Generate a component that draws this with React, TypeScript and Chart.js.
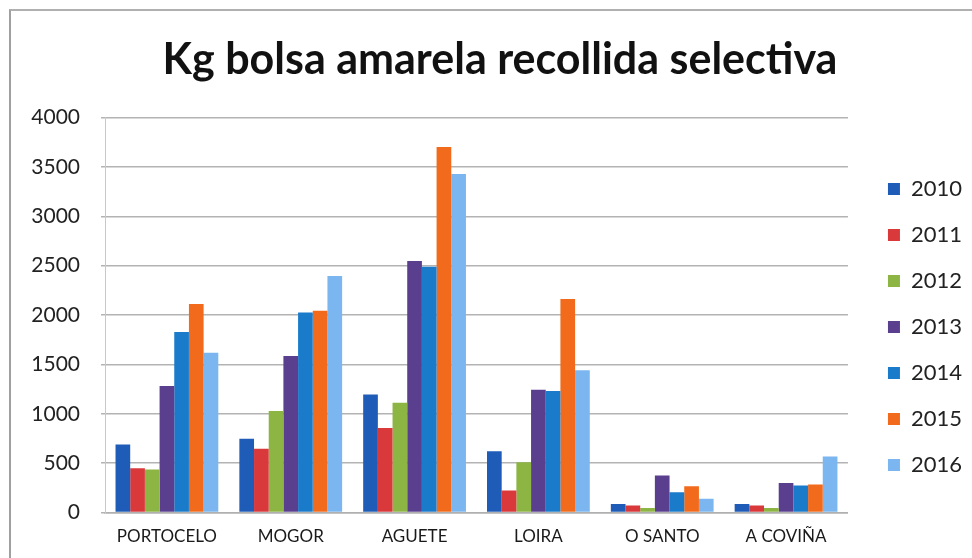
import { useEffect, useRef } from "react";
import { Chart, registerables } from "chart.js";

Chart.register(...registerables);

const categories = ["PORTOCELO", "MOGOR", "AGUETE", "LOIRA", "O SANTO", "A COVIÑA"];
const years = ["2010", "2011", "2012", "2013", "2014", "2015", "2016"];
const v2010 = [690, 748, 1195, 622, 88, 88];
const v2011 = [450, 646, 856, 223, 71, 71];
const v2012 = [437, 1028, 1113, 511, 47, 47];
const v2013 = [1283, 1587, 2548, 1245, 376, 301];
const v2014 = [1830, 2027, 2490, 1232, 206, 274];
const v2015 = [2112, 2044, 3702, 2162, 267, 284];
const v2016 = [1620, 2396, 3428, 1442, 139, 568];
const seriesValues = [v2010, v2011, v2012, v2013, v2014, v2015, v2016];
const seriesColors = ["#1F5CB8", "#D9393B", "#8DB543", "#5A3F8F", "#1A7BCB", "#F26A1B", "#7BB6F0"];
const yMin = 0;
const yMax = 4000;
const yStep = 500;
const titleText = "Kg bolsa amarela recollida selectiva";

export default function App() {
  const ref = useRef<HTMLCanvasElement | null>(null);

  useEffect(() => {
    if (!ref.current) return;
    Chart.defaults.font.family = "Lato";
    const chart = new Chart(ref.current, {
      type: "bar",
      data: {
        labels: categories,
        datasets: years.map((y, i) => ({
          label: y,
          data: seriesValues[i],
          backgroundColor: seriesColors[i],
          borderWidth: 0,
          categoryPercentage: 0.83,
          barPercentage: 1.0,
        })),
      },
      options: {
        animation: false,
        responsive: false,
        maintainAspectRatio: false,
        layout: { padding: { left: 28, right: 0, top: 20, bottom: -3 } },
        plugins: {
          title: {
            display: true,
            text: titleText,
            color: "#111",
            font: { family: "Lato", weight: "bold", size: 43 },
            padding: { top: 14, bottom: 32 },
          },
          legend: {
            display: true,
            position: "right",
            fullSize: false,
            align: "center",
            title: { display: true, text: "", padding: 6, font: { size: 10 } },
            labels: {
              boxWidth: 12,
              boxHeight: 12,
              padding: 24,
              color: "#222",
              font: { family: "Lato", size: 22 },
            },
          },
          tooltip: { enabled: false },
        },
        scales: {
          x: {
            grid: { display: false, drawTicks: false },
            border: { display: true, color: "#b0b0b0", width: 1.5 },
            ticks: { color: "#1a1a1a", font: { family: "Lato", size: 17 }, padding: 14, maxRotation: 0, autoSkip: false },
          },
          y: {
            min: yMin,
            max: yMax,
            grid: { color: "#b3b3b3", lineWidth: 1.5, tickLength: 4 },
            border: { display: true, color: "#c8c8c8", width: 1 },
            ticks: {
              stepSize: yStep,
              color: "#222",
              font: { family: "Lato", size: 21 },
              padding: 21,
              callback: (v: any) => String(v),
            },
            afterFit: (s: any) => {
              s.width = 77;
            },
          },
          yR: {
            position: "right",
            display: true,
            grid: { display: false, drawTicks: false },
            border: { display: false },
            ticks: { display: false },
            afterFit: (s: any) => {
              s.width = 16;
            },
          },
        },
      } as any,
    });
    return () => chart.destroy();
  }, []);

  return (
    <div style={{ position: "fixed", left: 0, top: 0, width: 972, height: 558, background: "#fff" }}>
      <div
        style={{
          position: "absolute",
          left: 9,
          top: 9,
          width: 980,
          height: 600,
          borderLeft: "2px solid #a0a0a0",
          borderTop: "2px solid #b0b0b0",
        }}
      />
      <canvas ref={ref} width={972} height={558} style={{ position: "absolute", left: 0, top: 0, width: 972, height: 558 }} />
    </div>
  );
}
